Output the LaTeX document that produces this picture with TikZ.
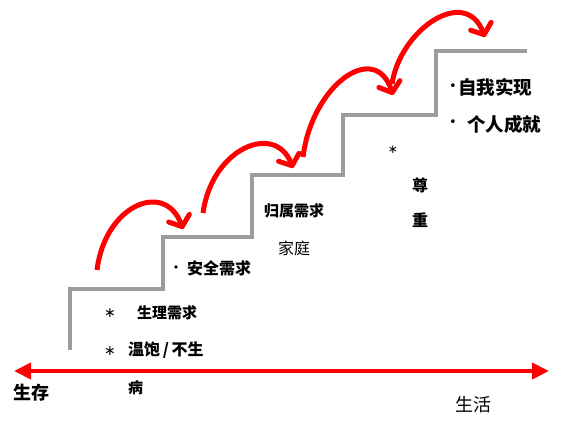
\documentclass[tikz,border=0pt]{standalone}
\usepackage{fontspec}
\usepackage{tikz}
\usetikzlibrary{arrows.meta}
\usepackage{xcolor}
\setmainfont{Noto Sans CJK SC}
\newfontfamily\markfont{DejaVu Sans}
\definecolor{stairgray}{HTML}{9C9C9C}
\definecolor{jumpred}{HTML}{FF0000}

\begin{document}
\begin{tikzpicture}[x=1pt,y=-1pt,>=Latex,
  jump/.style={jumpred,line width=5pt,-{Straight Barb[length=9pt,width=22pt,round]}},
  need/.style={inner sep=0pt,font=\bfseries\fontsize{15}{15}\selectfont},
  plain/.style={inner sep=0pt,font=\fontsize{16}{16}\selectfont},
  sign/.style={inner sep=0pt,font=\markfont\fontsize{14}{14}\selectfont}]
\useasboundingbox (0,0) rectangle (562,429);
% Staircase, one continuous gray line.
\draw[stairgray,line width=4pt] (70,350)--(70,289)--(163,289)--(163,237)--(252,237)
  --(252,175)--(343,175)--(343,115)--(436,115)--(436,51)--(527,51);
% Time axis with arrow tips at both ends.
\draw[jumpred,line width=4pt,{Triangle[length=17pt,width=16pt]}-{Triangle[length=17pt,width=16pt]}] (14,371)--(549,371);
% Jumps from one step to the next.
\draw[jump] (97,270) .. controls (105,205) and (165,180) .. (183,229);
\draw[jump] (203,213) .. controls (212,148) and (275,122) .. (293,168);
\draw[jump] (303,157) .. controls (312,85) and (375,40) .. (393,95);
\draw[jump] (392,84) .. controls (400,30) and (465,-15) .. (485,37);
% Step texts.
\node[plain,font=\bfseries\fontsize{18}{18}\selectfont] (live) at (31,393) {生存};
\node[plain,font=\fontsize{18}{18}\selectfont] (life) at (473,405) {生活};
\node[sign] (star1) at (110,313) {∗};
\node[need,anchor=west] (body) at (137,313) {生理需求};
\node[sign] (star2) at (110,351) {∗};
\node[need,anchor=west,font=\bfseries\fontsize{16}{16}\selectfont] (warm) at (128,350) {温饱\,/\,不生};
\node[need,anchor=west] (ill) at (128,388) {病};
\node[sign,font=\markfont\fontsize{11}{11}\selectfont] (dot1) at (176,269) {•};
\node[need,anchor=west,font=\bfseries\fontsize{16}{16}\selectfont] (safe) at (187,268) {安全需求};
\node[need] (belong) at (294,211) {归属需求};
\node[plain] (home) at (294,248) {家庭};
\node[sign,font=\markfont\fontsize{12}{12}\selectfont] (star3) at (393,150) {∗};
\node[need,font=\bfseries\fontsize{16}{16}\selectfont] (zun) at (420,185) {尊};
\node[need,font=\bfseries\fontsize{16}{16}\selectfont] (zhong) at (420,220) {重};
\node[sign,font=\markfont\fontsize{13}{13}\selectfont] (dot2) at (453,87) {•};
\node[need,anchor=west,font=\bfseries\fontsize{18.5}{18.5}\selectfont] (self) at (458,87) {自我实现};
\node[sign,font=\markfont\fontsize{13}{13}\selectfont] (dot3) at (453,123) {•};
\node[need,anchor=west,font=\bfseries\fontsize{18.5}{18.5}\selectfont] (win) at (467,124) {个人成就};
\end{tikzpicture}
\end{document}
